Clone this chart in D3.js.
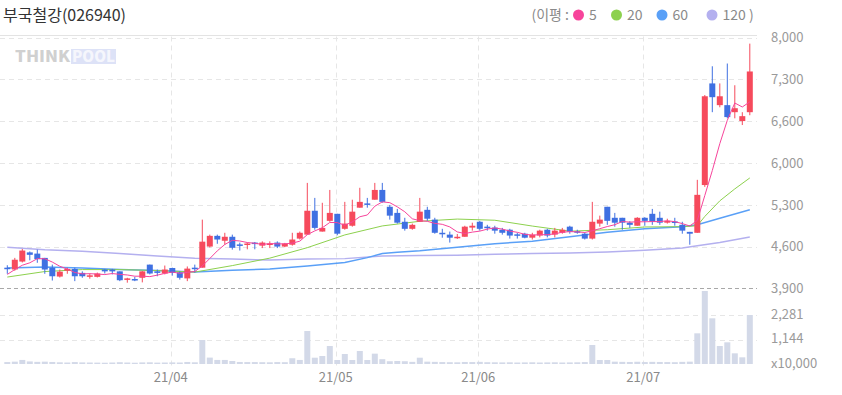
<!DOCTYPE html>
<html><head><meta charset="utf-8">
<script src="https://cdn.jsdelivr.net/npm/d3@7"></script>
<style>
body{margin:0;background:#fff;}
text{font-family:"Noto Sans CJK KR","Noto Sans",sans-serif;}
</style>
</head><body>
<svg id="c" width="842" height="395"></svg>
<script>
// ---------------- DATA ----------------
const title = "부국철강(026940)";
const legendPrefix = "(이평 :";
const maNames = ["5", "20", "60", "120 )"];
// month labels and the index of each month's first trading day
const monthLabels = ["21/04", "21/05", "21/06", "21/07"];
const monthStartIdx = [22, 44, 63, 85];
const priceTickLabels = ["3,900", "4,600", "5,300", "6,000", "6,600", "7,300", "8,000"];
const volTickValues = [0, 1144, 2281];

const openP = [4240,4210,4340,4490,4470,4400,4240,4095,4190,4220,
 4155,4100,4090,4210,4210,4180,4055,4055,4075,4290,
 4180,4145,4235,4165,4065,4240,4240,4585,4760,4680,
 4745,4620,4625,4650,4600,4625,4650,4585,4615,4715,
 4780,5170,4830,5005,5120,4875,4925,5220,5290,5350,
 5510,5235,5135,4990,4875,4990,5185,5025,4810,4780,
 4730,4745,4895,4990,4910,4895,4860,4860,4785,4795,
 4730,4765,4860,4780,4810,4910,4835,4795,4715,4960,
 5235,5055,5055,4975,4925,5055,5120,5055,4975,4995,
 4940,4825,4810,5590,7250,6895,6895,6780,6635,6780];
const highP = [4280,4400,4545,4505,4535,4400,4290,4210,4240,4240,
 4180,4145,4160,4220,4220,4180,4075,4090,4185,4290,
 4210,4275,4240,4180,4260,4290,5025,4780,4780,4810,
 4780,4650,4650,4660,4670,4670,4670,4645,4810,4830,
 5625,5380,5300,5510,5120,5315,5350,5545,5380,5625,
 5625,5265,5200,5055,4960,5380,5235,5055,4875,4830,
 4790,4925,4975,5005,4940,4925,4890,4875,4810,4810,
 4810,4860,4875,4890,4890,4925,4860,4815,5315,5090,
 5235,5135,5055,5000,5065,5065,5200,5155,5040,5055,
 4990,4825,5675,7060,7530,7250,7575,7220,6780,7900];
const lowP = [4140,4190,4325,4360,4320,4140,4030,4080,4140,4020,
 4075,4060,4080,4145,4130,4020,3995,4020,4000,4130,
 4100,4130,4110,4045,4020,4160,4240,4570,4630,4615,
 4535,4520,4540,4540,4560,4560,4560,4575,4600,4700,
 4780,4860,4830,4990,4770,4860,4910,5220,5220,5350,
 5300,5025,4960,4845,4860,4990,5005,4795,4730,4650,
 4710,4745,4845,4845,4845,4795,4780,4715,4715,4720,
 4700,4735,4735,4735,4795,4795,4795,4700,4700,4910,
 4940,4910,4860,4890,4925,4925,4940,4940,4960,4925,
 4795,4615,4810,5560,6780,6860,6680,6680,6570,6730];
const closeP = [4215,4370,4520,4450,4380,4210,4100,4175,4220,4100,
 4100,4115,4145,4180,4180,4035,4065,4045,4180,4145,
 4155,4210,4155,4075,4225,4225,4665,4760,4700,4745,
 4565,4610,4635,4640,4650,4635,4585,4635,4700,4810,
 5170,4890,4890,5135,4795,4960,5155,5315,5280,5510,
 5315,5090,4975,4875,4940,5155,5040,4810,4795,4730,
 4745,4910,4925,4875,4895,4845,4810,4765,4775,4730,
 4780,4845,4765,4845,4860,4830,4825,4715,4990,5025,
 5005,4975,4975,4940,5055,5005,4990,4975,5005,4985,
 4845,4795,5430,7040,7025,7040,6700,6845,6715,7445];
// volume, x10,000 shares
const volume = [90,110,190,120,100,110,95,80,70,90,75,70,65,60,70,85,70,60,75,80,65,70,75,70,95,80,
 1125,300,190,190,140,95,90,90,85,80,90,85,270,190,1546,295,375,843,187,469,187,609,187,485,225,130,140,130,100,295,
 110,100,90,85,80,95,90,100,85,80,75,80,70,75,80,70,75,80,70,75,80,90,
 890,187,187,110,100,95,105,90,100,95,90,85,100,110,1438,3421,2141,843,1016,500,313,2296];

// moving averages (index, value)
const ma5Head = [4130, 4210, 4280, 4320];
const ma20Idx = [0,5,10,15,20,25,30,35,40,45,50,55,60,65,70,75,80,85,90,92,93,95,97,99];
const ma20Val = [4087,4177,4209,4209,4193,4168,4274,4396,4567,4775,4922,4998,5034,5015,4920,4836,4860,4905,4910,4925,5077,5332,5527,5706];
const ma60Idx = [0,5,10,15,20,25,30,35,40,45,48,50,52,55,60,65,70,75,80,85,90,92,95,99];
const ma60Val = [4234,4250,4234,4209,4193,4168,4200,4217,4266,4323,4404,4470,4494,4518,4575,4632,4673,4746,4819,4876,4909,4941,5047,5185];
const ma120Idx = [0,5,10,15,20,25,30,35,40,45,50,55,60,65,70,75,80,85,90,92,95,99];
const ma120Val = [4575,4535,4510,4470,4430,4396,4380,4364,4380,4388,4430,4440,4445,4460,4470,4478,4495,4525,4560,4600,4650,4740];

// ---------------- STYLE ----------------
const C = {
  up: "#f64a5c", down: "#3f70e2", ma5: "#f7449b", ma20: "#8dd14e", ma60: "#5aa0f7", ma120: "#b4b0ef",
  vol: "#d3d9e8", grid: "#e6e6e6", sep: "#a8a8a8", axisText: "#9a9a9a"
};
const N = closeP.length;
const plotL = 0, plotR = 757, plotTop = 35.5;

const svg = d3.select("#c");
svg.append("rect").attr("width", 842).attr("height", 395).attr("fill", "#fff");

const x = d3.scaleBand().domain(d3.range(N)).range([3.55, 753.55]).paddingInner(0.2).paddingOuter(0.1);
const cx = i => x(i) + x.bandwidth() / 2;
const y = d3.scaleLinear().domain([3900, 8000]).range([288.5, 37.5]);
const yv = d3.scaleLinear().domain([0, 3421]).range([364, 291]);

const priceTickValues = d3.range(priceTickLabels.length).map(k => 3900 + k * (8000 - 3900) / (priceTickLabels.length - 1));

// top border
svg.append("line").attr("x1", plotL).attr("x2", plotR).attr("y1", plotTop).attr("y2", plotTop)
  .attr("stroke", "#e3e3e3").attr("stroke-width", 1);

// horizontal grid
const g = svg.append("g");
priceTickValues.forEach((v, k) => {
  if (k === 0) return;
  const yy = Math.round(y(v)) + 0.5;
  g.append("line").attr("x1", plotL).attr("x2", plotR).attr("y1", yy).attr("y2", yy)
    .attr("stroke", C.grid).attr("stroke-dasharray", "5,4");
});
volTickValues.slice(1).forEach(v => {
  const yy = Math.round(yv(v)) + 0.5;
  g.append("line").attr("x1", plotL).attr("x2", plotR).attr("y1", yy).attr("y2", yy)
    .attr("stroke", C.grid).attr("stroke-dasharray", "5,4");
});
// vertical month grid
monthStartIdx.forEach(i => {
  const xx = Math.round(cx(i) - 1.6) + 0.5;
  g.append("line").attr("x1", xx).attr("x2", xx).attr("y1", plotTop + 1).attr("y2", 366)
    .attr("stroke", C.grid).attr("stroke-dasharray", "5,4");
});
// separator price / volume
g.append("line").attr("x1", plotL).attr("x2", plotR).attr("y1", 288.5).attr("y2", 288.5)
  .attr("stroke", C.sep).attr("stroke-dasharray", "4,3");

// watermark
const wm = svg.append("g").attr("opacity", 0.55);
wm.append("text").attr("x", 15).attr("y", 62).attr("font-size", 15).attr("font-weight", 900)
  .attr("font-family", "Liberation Sans, Arial, sans-serif").attr("fill", "#aaaaaa")
  .attr("textLength", 55).attr("lengthAdjust", "spacingAndGlyphs").text("THINK");
wm.append("rect").attr("x", 71).attr("y", 49).attr("width", 45).attr("height", 15).attr("fill", "#c3cbf1");
wm.append("text").attr("x", 72).attr("y", 62).attr("font-size", 15).attr("font-weight", 900)
  .attr("font-family", "Liberation Sans, Arial, sans-serif").attr("fill", "#eef0fb")
  .attr("textLength", 43).attr("lengthAdjust", "spacingAndGlyphs").text("POOL");

// volume bars
svg.append("g").selectAll("rect").data(volume).join("rect")
  .attr("x", (d, i) => x(i)).attr("width", x.bandwidth())
  .attr("y", d => yv(d)).attr("height", d => yv(0) - yv(d))
  .attr("fill", C.vol);

// moving averages
const line = d3.line().x(d => cx(d[0])).y(d => y(d[1]));
function drawMA(idx, val, color, w) {
  svg.append("path").datum(idx.map((i, k) => [i, val[k]]))
    .attr("d", line).attr("fill", "none").attr("stroke", color).attr("stroke-width", w);
}
drawMA(ma120Idx, ma120Val, C.ma120, 1.5);
drawMA(ma60Idx, ma60Val, C.ma60, 1.5);
drawMA(ma20Idx, ma20Val, C.ma20, 1);

// candles
const cg = svg.append("g");
d3.range(N).forEach(i => {
  const up = closeP[i] >= openP[i];
  const col = up ? C.up : C.down;
  cg.append("line").attr("x1", cx(i)).attr("x2", cx(i)).attr("y1", y(highP[i])).attr("y2", y(lowP[i]))
    .attr("stroke", col).attr("stroke-width", 1);
  const y0 = y(Math.max(openP[i], closeP[i])), y1 = y(Math.min(openP[i], closeP[i]));
  cg.append("rect").attr("x", x(i)).attr("width", x.bandwidth())
    .attr("y", y0).attr("height", Math.max(1.5, y1 - y0)).attr("fill", col);
});

// MA5 computed from closes (first points)
const ma5 = d3.range(N).map(i => i < ma5Head.length ? ma5Head[i] : d3.mean(closeP.slice(i - 4, i + 1)));
drawMA(d3.range(N), ma5, C.ma5, 1);

// right axis - price
const axP = svg.append("g").attr("transform", "translate(771,0)")
  .call(d3.axisRight(y).tickValues(priceTickValues).tickFormat((d, k) => priceTickLabels[k]).tickSize(0).tickPadding(0));
const axV = svg.append("g").attr("transform", "translate(771,-1)")
  .call(d3.axisRight(yv).tickValues(volTickValues).tickFormat(d => d === 0 ? "x10,000" : d3.format(",")(d)).tickSize(0).tickPadding(0));
[axP, axV].forEach(a => {
  a.select(".domain").remove();
  a.selectAll("text").attr("fill", C.axisText).attr("font-size", 13)
    .attr("font-family", "'Noto Sans CJK KR','Noto Sans',sans-serif");
});

// bottom axis - months
const axX = svg.append("g").attr("transform", "translate(-1.6,373)")
  .call(d3.axisBottom(x).tickValues(monthStartIdx).tickFormat((d, k) => monthLabels[k]).tickSize(0).tickPadding(0));
axX.select(".domain").remove();
axX.selectAll("text").attr("fill", "#8a8a8a").attr("font-size", 13)
  .attr("font-family", "'Noto Sans CJK KR','Noto Sans',sans-serif");

// title
svg.append("text").attr("x", 3).attr("y", 21).attr("font-size", 16).attr("fill", "#333").text(title);

// legend
const lg = svg.append("g").attr("font-size", 14).attr("fill", "#8a8a8a");
lg.append("text").attr("x", 569).attr("y", 20).attr("text-anchor", "end").text(legendPrefix);
const legCols = [C.ma5, C.ma20, C.ma60, C.ma120];
const dotX = [578.5, 616.5, 662, 712];
maNames.forEach((n, k) => {
  lg.append("circle").attr("cx", dotX[k]).attr("cy", 15).attr("r", 5.5).attr("fill", legCols[k]);
  lg.append("text").attr("x", dotX[k] + 10.5).attr("y", 20).text(n);
});
</script>
</body></html>
